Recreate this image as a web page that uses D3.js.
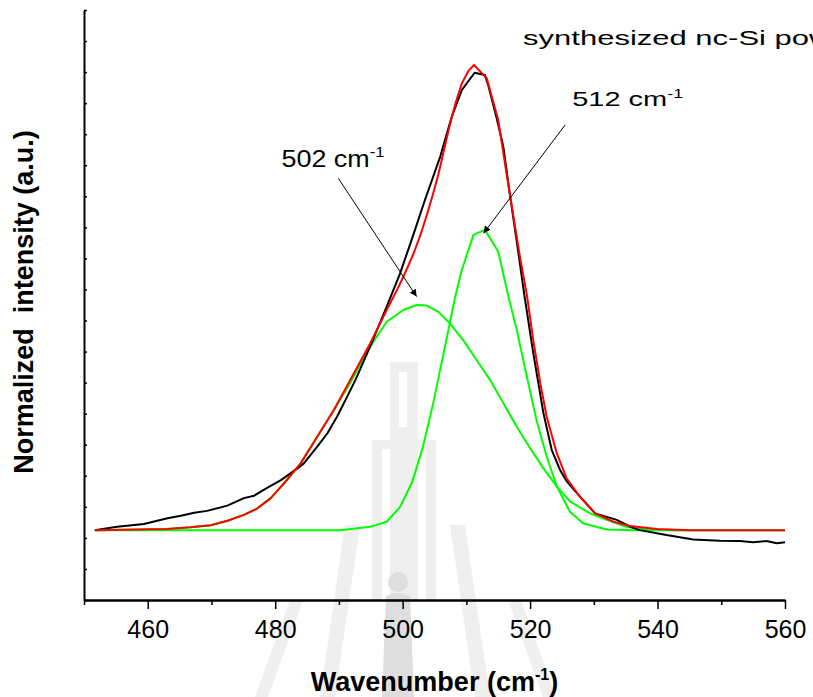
<!DOCTYPE html>
<html>
<head>
<meta charset="utf-8">
<script src="https://cdn.jsdelivr.net/npm/d3@7"></script>
<style>
  body { margin: 0; background: #fff; }
  svg { display: block; font-family: Arial, "Liberation Sans", sans-serif; }
  .curve { fill: none; stroke-width: 2; stroke-linejoin: round; }
</style>
</head>
<body>
<div class="container"></div>
<script>
// measured spectrum (wavenumber, normalized intensity)
var blackX = [451.7,455.2,459.4,463.1,465.2,467.3,469.3,472.5,475.1,476.7,478.8,480.9,483.5,484.5,486.6,488.2,489.7,491.3,492.6,495.0,497.5,499.6,501.4,503.5,505.9,507.7,509.3,511.3,512.9,513.4,514.7,515.8,516.8,518.1,519.1,520.5,522.1,523.4,524.7,525.7,527.0,530.2,533.6,535.7,537.2,541.4,545.6,549.8,552.9,555.0,557.1,558.7,560.0];
var blackY = [0.225,0.236,0.245,0.263,0.271,0.281,0.287,0.304,0.328,0.336,0.362,0.386,0.424,0.440,0.494,0.537,0.590,0.655,0.709,0.821,0.945,1.052,1.159,1.288,1.428,1.556,1.643,1.698,1.691,1.660,1.556,1.460,1.310,1.127,0.982,0.795,0.601,0.483,0.419,0.384,0.352,0.279,0.258,0.236,0.225,0.209,0.195,0.191,0.190,0.186,0.190,0.183,0.186];

// cumulative fit (red)
var fitX = [451.7,463.0,466.7,469.9,472.5,475.1,477.2,479.3,481.4,484.0,486.6,489.2,491.8,494.9,497.5,499.1,500.1,501.7,502.7,503.8,504.8,505.6,506.5,507.4,508.3,509.3,510.3,511.2,513.2,515.0,516.3,517.4,518.4,519.5,520.5,521.6,522.6,524.2,525.7,527.8,530.2,533.1,535.7,539.9,545.1,560.0];
var fitY = [0.225,0.229,0.234,0.241,0.255,0.274,0.295,0.328,0.376,0.440,0.526,0.612,0.709,0.826,0.934,0.998,1.040,1.115,1.170,1.240,1.310,1.370,1.450,1.530,1.600,1.664,1.703,1.723,1.680,1.546,1.374,1.234,1.106,0.982,0.837,0.698,0.590,0.472,0.393,0.333,0.279,0.252,0.238,0.229,0.225,0.225];

// fitted component at 502 cm-1 (green)
var peak1X = [451.7,463.0,466.7,469.9,472.5,475.1,477.2,479.3,481.4,484.0,486.6,489.2,491.8,494.9,497.5,500.1,502.2,503.8,505.6,507.4,509.5,511.6,513.7,515.8,517.9,520.0,522.1,524.2,526.3,529.4,532.0,535.1,538.3,542.5,560.0];
var peak1Y = [0.225,0.229,0.234,0.241,0.255,0.274,0.295,0.328,0.376,0.440,0.526,0.610,0.700,0.816,0.896,0.934,0.950,0.948,0.928,0.891,0.837,0.773,0.709,0.634,0.558,0.489,0.424,0.365,0.317,0.279,0.258,0.236,0.228,0.225,0.225];

// fitted component at 512 cm-1 (green)
var peak2X = [451.7,490.2,494.9,495.9,497.5,498.0,499.6,501.5,503.2,504.8,506.1,507.4,508.2,509.2,511.1,512.9,515.0,516.6,517.9,519.5,521.0,522.6,524.2,526.3,528.3,532.0,536.2,560.0];
var peak2Y = [0.225,0.225,0.236,0.242,0.252,0.263,0.300,0.380,0.494,0.634,0.762,0.891,0.972,1.057,1.176,1.192,1.122,0.977,0.870,0.719,0.580,0.462,0.365,0.283,0.247,0.227,0.225,0.225];

var xMajorTicks = [460,480,500,520,540,560];
var xMinorTicks = [450,470,490,510,530,550];
var yMinorTicks = [0,0.1,0.2,0.3,0.4,0.5,0.6,0.7,0.8,0.9,1.0,1.1,1.2,1.3,1.4,1.5,1.6,1.7,1.8,1.9];

const WIDTH = 813;
const HEIGHT = 697;
const LEFT = 84, RIGHT = 785, TOP = 10, BOTTOM = 600;

var xScale = d3.scaleLinear().domain([450,560]).range([LEFT,RIGHT]);
var yScale = d3.scaleLinear().domain([0,1.9]).range([BOTTOM,TOP]);

var line = d3.line()
  .x(function(d){ return xScale(d[0]); })
  .y(function(d){ return yScale(d[1]); });

var zip = function(xs, ys){ return xs.map(function(v,i){ return [v, ys[i]]; }); };

var svg = d3.select('.container').append('svg')
  .attr('width', WIDTH)
  .attr('height', HEIGHT);

svg.append('rect').attr('width', WIDTH).attr('height', HEIGHT).attr('fill', '#fff');

// faint watermark behind the plot
var wm = svg.append('g').attr('fill', '#efefef');
wm.append('rect').attr('x', 390).attr('y', 362).attr('width', 28).attr('height', 238);
wm.append('rect').attr('x', 399).attr('y', 372).attr('width', 8).attr('height', 55).attr('fill', '#fff');
wm.append('rect').attr('x', 372).attr('y', 440).attr('width', 10).attr('height', 160);
wm.append('rect').attr('x', 426).attr('y', 440).attr('width', 10).attr('height', 160);
wm.append('rect').attr('x', 372).attr('y', 440).attr('width', 64).attr('height', 9);
wm.append('path').attr('d', 'M345,525 L360,525 L335,697 L320,697 Z');
wm.append('path').attr('d', 'M450,525 L465,525 L490,697 L475,697 Z');
wm.append('path').attr('d', 'M290,600 L303,600 L268,697 L255,697 Z');
wm.append('path').attr('d', 'M508,600 L521,600 L556,697 L543,697 Z');
wm.append('circle').attr('cx', 398).attr('cy', 582).attr('r', 10).attr('fill', '#dedede');
wm.append('path').attr('d', 'M386,596 Q398,590 410,596 L414,697 L382,697 Z').attr('fill', '#dedede');

// axes
var xAxisMajor = d3.axisBottom(xScale).tickValues(xMajorTicks).tickSize(9).tickPadding(11).tickSizeOuter(0);
var xAxisMinor = d3.axisBottom(xScale).tickValues(xMinorTicks).tickSize(5).tickFormat('').tickSizeOuter(0);
var yAxis = d3.axisLeft(yScale).tickValues(yMinorTicks).tickSize(-3).tickFormat('').tickSizeOuter(0);

var gx = svg.append('g').attr('transform', 'translate(0,' + BOTTOM + ')').call(xAxisMajor);
svg.append('g').attr('transform', 'translate(0,' + BOTTOM + ')').call(xAxisMinor);
var gy = svg.append('g').attr('transform', 'translate(' + LEFT + ',0)').call(yAxis);

svg.selectAll('.domain').attr('stroke', '#000').attr('stroke-width', 2);
svg.selectAll('.tick line').attr('stroke', '#000').attr('stroke-width', 1.5);
gx.selectAll('text').attr('font-size', 25).attr('fill', '#000').attr('font-family', 'Arial, "Liberation Sans", sans-serif');

// curves
var g = svg.append('g');
g.append('path').attr('class', 'curve').datum(zip(peak1X, peak1Y)).attr('d', line).attr('stroke', '#00ff00');
g.append('path').attr('class', 'curve').datum(zip(peak2X, peak2Y)).attr('d', line).attr('stroke', '#00ff00');
g.append('path').attr('class', 'curve').datum(zip(blackX, blackY)).attr('d', line).attr('stroke', '#000');
g.append('path').attr('class', 'curve').datum(zip(fitX, fitY)).attr('d', line).attr('stroke', '#ff0000');

// arrow marker
svg.append('defs').append('marker')
  .attr('id', 'arrow')
  .attr('viewBox', '0 0 10 10')
  .attr('refX', 10).attr('refY', 5)
  .attr('markerWidth', 11).attr('markerHeight', 7)
  .attr('markerUnits', 'userSpaceOnUse')
  .attr('orient', 'auto')
  .append('path').attr('d', 'M0,0 L10,5 L0,10 Z').attr('fill', '#000');

// annotations, placed in data units
var notes = [
  {label: '502 cm', tx: 481.0, ty: 1.395, size: 24, sx: 1.12, from: [489.9, 1.358], to: [502.2, 0.977]},
  {label: '512 cm', tx: 526.6, ty: 1.591, size: 20, sx: 1.45, from: [525.5, 1.530], to: [512.7, 1.181]}
];

notes.forEach(function(n){
  svg.append('line')
    .attr('x1', xScale(n.from[0])).attr('y1', yScale(n.from[1]))
    .attr('x2', xScale(n.to[0])).attr('y2', yScale(n.to[1]))
    .attr('stroke', '#000').attr('stroke-width', 1)
    .attr('marker-end', 'url(#arrow)');
  var t = svg.append('text')
    .attr('transform', 'translate(' + xScale(n.tx) + ',' + yScale(n.ty) + ') scale(' + n.sx + ',1)')
    .attr('font-size', n.size).attr('fill', '#000');
  t.append('tspan').text(n.label);
  t.append('tspan').attr('dy', -n.size * 0.42).attr('font-size', n.size * 0.62).text('-1');
});

svg.append('text')
  .attr('transform', 'translate(' + xScale(518.9) + ',' + yScale(1.787) + ') scale(1.55,1)')
  .attr('font-size', 20).attr('fill', '#000')
  .text('synthesized nc-Si powder');

// axis titles
var xt = svg.append('text')
  .attr('x', (LEFT + RIGHT) / 2).attr('y', 691)
  .attr('text-anchor', 'middle')
  .attr('font-size', 27).attr('font-weight', 'bold');
xt.append('tspan').text('Wavenumber (cm');
xt.append('tspan').attr('dy', -11).attr('font-size', 16).text('-1');
xt.append('tspan').attr('dy', 11).text(')');

svg.append('text')
  .attr('transform', 'translate(33,302) rotate(-90)')
  .attr('text-anchor', 'middle')
  .attr('font-size', 27).attr('font-weight', 'bold')
  .attr('xml:space', 'preserve')
  .text('Normalized  intensity (a.u.)');
</script>
</body>
</html>
